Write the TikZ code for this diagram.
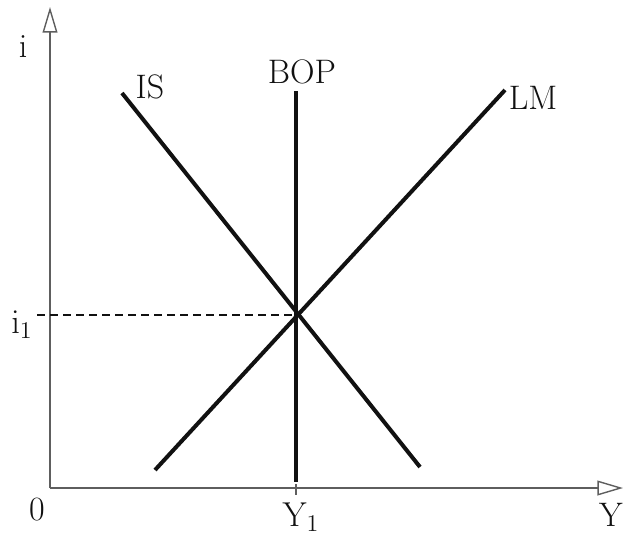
\documentclass[tikz,border=0pt]{standalone}
\usepackage{tikz}
\usetikzlibrary{arrows.meta,calc,positioning}
\definecolor{ink}{HTML}{111111}
\definecolor{axisgray}{HTML}{5E5E5E}
\tikzset{
  every node/.style={font=\fontsize{17}{20}\selectfont,text=ink,inner sep=1pt},
  axisline/.style={draw=axisgray,line width=0.7pt,-{Triangle[open,length=4.5mm,width=2.6mm]}},
  curve/.style={draw=ink,line width=2pt},
  guide/.style={draw=ink,line width=0.9pt,dash pattern=on 4pt off 2.5pt},
  tickmark/.style={draw=axisgray,line width=0.7pt},
}
\begin{document}
\begin{tikzpicture}[x=0.5pt,y=-0.5pt]
  \useasboundingbox (0,0) rectangle (626,538);
  % axes
  \coordinate (o) at (50,488);
  \coordinate (itop) at (50,7);
  \coordinate (yend) at (623,488);
  \draw[axisline] (o) -- (itop);
  \draw[axisline] (o) -- (yend);
  % equilibrium
  \coordinate (eq) at (296,315);
  \coordinate (isA) at (122,93);
  \coordinate (isB) at (420,467);
  \coordinate (lmA) at (155,470);
  \coordinate (lmB) at (505,90);
  \coordinate (bopA) at (296,91);
  \coordinate (bopB) at (296,482);
  \coordinate (tickA) at (296,484);
  \coordinate (tickB) at (296,495);
  \coordinate (dashA) at (37,315);
  \draw[curve] (isA) -- (isB);
  \draw[curve] (lmA) -- (lmB);
  \draw[curve] (bopA) -- (bopB);
  \draw[tickmark] (tickA) -- (tickB);
  \draw[guide] (dashA) -- (eq);
  % labels
  \node (li) at (23,47) {i};
  \node (lis) at (150,87) {IS};
  \node (lbop) at (302,72) {BOP};
  \node (llm) at (533,98) {LM};
  \node (li1) at (22,325) {$\mathrm{i}_1$};
  \node (lzero) at (37,510) {0};
  \node (ly1) at (301,517) {$\mathrm{Y}_1$};
  \node[anchor=east] (ly) at (625,515) {Y};
\end{tikzpicture}
\end{document}
